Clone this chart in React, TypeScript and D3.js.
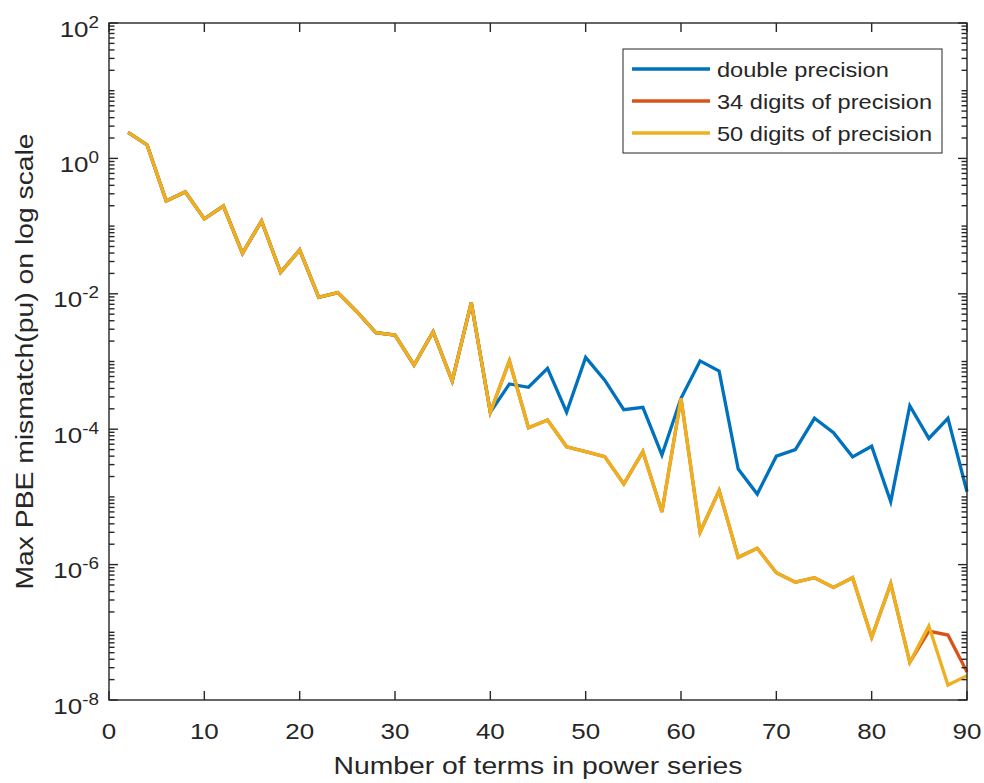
import React from 'react'
import * as d3 from 'd3'

// number of terms (x) and max mismatch per series
const terms = d3.range(2, 91, 2)

const common = [2.43, 1.58, 0.235, 0.32, 0.128, 0.198, 0.0396, 0.119, 0.0207, 0.0444,
  0.00887, 0.0104, 0.00544, 0.00266, 0.00246, 0.000887, 0.00275, 0.000515, 0.0074, 0.000178]

const doubleTail = [4.66e-4, 4.16e-4, 7.9e-4, 1.78e-4, 1.15e-3, 5.3e-4, 1.94e-4, 2.1e-4, 4.16e-5,
  2.86e-4, 1.02e-3, 7.2e-4, 2.58e-5, 1.1e-5, 4.0e-5, 5.0e-5, 1.45e-4, 8.9e-5, 3.9e-5, 5.6e-5,
  8.5e-6, 2.22e-4, 7.3e-5, 1.45e-4, 1.19e-5]

const digits50Tail = [1.02e-3, 1.05e-4, 1.37e-4, 5.5e-5, 4.66e-5, 3.93e-5, 1.55e-5, 4.66e-5, 6.0e-6,
  2.86e-4, 3.0e-6, 1.24e-5, 1.28e-6, 1.74e-6, 7.6e-7, 5.5e-7, 6.4e-7, 4.6e-7, 6.4e-7, 8.4e-8,
  5.2e-7, 3.6e-8, 1.24e-7, 1.66e-8, 2.29e-8]

const digits34Tail = [1.02e-3, 1.05e-4, 1.37e-4, 5.5e-5, 4.66e-5, 3.93e-5, 1.55e-5, 4.66e-5, 6.0e-6,
  2.86e-4, 3.0e-6, 1.24e-5, 1.28e-6, 1.74e-6, 7.6e-7, 5.5e-7, 6.4e-7, 4.6e-7, 6.4e-7, 8.4e-8,
  5.2e-7, 3.6e-8, 1.04e-7, 9.1e-8, 2.6e-8]

const series = [
  { name: 'double precision', color: '#0072BD', values: common.concat(doubleTail) },
  { name: '34 digits of precision', color: '#D95319', values: common.concat(digits34Tail) },
  { name: '50 digits of precision', color: '#EDB120', values: common.concat(digits50Tail) },
]

const xTicks = d3.range(0, 91, 10)
const yMajor = [-8, -6, -4, -2, 0, 2]

const W = 984
const H = 783
const left = 109, right = 967, top = 23, bottom = 700
const SX = 1.18
const FONT = 'Liberation Sans, Arial, Helvetica, sans-serif'
const AX = '#262626'

const x = d3.scaleLinear().domain([0, 90]).range([left, right])
const y = d3.scaleLog().domain([1e-8, 1e2]).range([bottom, top])

const minorY: number[] = []
for (let k = -8; k < 2; k++) {
  for (let m = 2; m <= 9; m++) minorY.push(m * Math.pow(10, k))
  if (k % 2 !== 0) minorY.push(Math.pow(10, k))
}

const Txt = (p: { x: number, y: number, size: number, anchor?: string, rotate?: number, children: React.ReactNode }) => (
  <g transform={`translate(${p.x},${p.y})${p.rotate ? ` rotate(${p.rotate})` : ''} scale(${SX},1)`}>
    <text fontSize={p.size} textAnchor={p.anchor || 'start'} fill={AX} fontFamily={FONT}>{p.children}</text>
  </g>
)

export default function App() {
  const line = d3.line<number>()
    .x((_, i) => x(terms[i]))
    .y(d => y(d))

  const majLen = 9
  const minLen = 5.5

  return (
    <svg width={W} height={H} style={{ position: 'absolute', left: 0, top: 0, background: '#fff' }}>
      <rect x={0} y={0} width={W} height={H} fill="#fff" />
      {/* data */}
      <g fill="none" strokeWidth={3.3}>
        {series.map(s => (
          <path key={s.name} d={line(s.values) || ''} stroke={s.color} />
        ))}
      </g>

      {/* box and ticks */}
      <g stroke={AX} strokeWidth={1.4} fill="none">
        <rect x={left} y={top} width={right - left} height={bottom - top} />
        {xTicks.map(t => (
          <g key={'x' + t}>
            <line x1={x(t)} x2={x(t)} y1={bottom} y2={bottom - majLen} />
            <line x1={x(t)} x2={x(t)} y1={top} y2={top + majLen} />
          </g>
        ))}
        {yMajor.map(e => (
          <g key={'y' + e}>
            <line x1={left} x2={left + majLen} y1={y(Math.pow(10, e))} y2={y(Math.pow(10, e))} />
            <line x1={right} x2={right - majLen} y1={y(Math.pow(10, e))} y2={y(Math.pow(10, e))} />
          </g>
        ))}
        {minorY.map((v, i) => (
          <g key={'m' + i}>
            <line x1={left} x2={left + minLen} y1={y(v)} y2={y(v)} />
            <line x1={right} x2={right - minLen} y1={y(v)} y2={y(v)} />
          </g>
        ))}
      </g>

      {/* tick labels */}
      {xTicks.map(t => (
        <Txt key={'xl' + t} x={x(t)} y={bottom + 39} size={22} anchor="middle">{t}</Txt>
      ))}
      {yMajor.map(e => (
        <Txt key={'yl' + e} x={99} y={y(Math.pow(10, e)) + 13.5} size={22} anchor="end">
          10<tspan fontSize={16} dy={-9}>{e}</tspan>
        </Txt>
      ))}

      {/* axis labels */}
      <Txt x={(left + right) / 2} y={774} size={24} anchor="middle">Number of terms in power series</Txt>
      <Txt x={33} y={(top + bottom) / 2} size={24} anchor="middle" rotate={-90}>Max PBE mismatch(pu) on log scale</Txt>

      {/* legend */}
      <rect x={623} y={49} width={319} height={104} fill="#fff" stroke={AX} strokeWidth={1} />
      {series.map((s, i) => (
        <g key={'lg' + i}>
          <line x1={632} x2={710} y1={69 + i * 32} y2={69 + i * 32} stroke={s.color} strokeWidth={3.3} />
          <Txt x={717} y={69 + i * 32 + 8} size={20}>{s.name}</Txt>
        </g>
      ))}
    </svg>
  )
}
